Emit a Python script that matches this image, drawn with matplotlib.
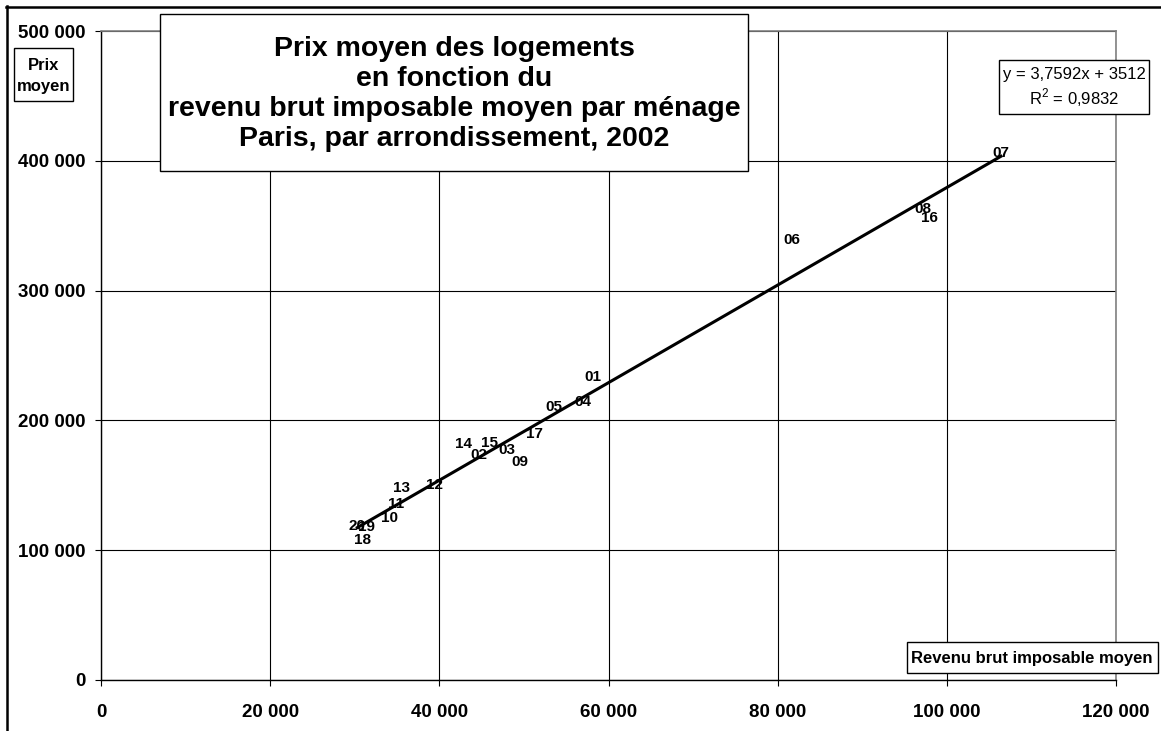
import matplotlib
matplotlib.use("Agg")
import matplotlib.pyplot as plt
from matplotlib.patches import Rectangle
from matplotlib.lines import Line2D
from matplotlib.ticker import FuncFormatter, MultipleLocator

plt.rcParams['font.family'] = ['Liberation Sans', 'DejaVu Sans']
plt.rcParams['mathtext.fontset'] = 'custom'
plt.rcParams['mathtext.rm'] = 'Liberation Sans'

# arrondissements : revenu brut imposable moyen / prix moyen des logements
arrondissements = ['01', '02', '03', '04', '05', '06', '07', '08', '09', '10',
                   '11', '12', '13', '14', '15', '16', '17', '18', '19', '20']
revenu = [58200, 44700, 48000, 57000, 53600, 81700, 106400, 97200, 49500, 34100,
          34900, 39400, 35500, 42800, 45900, 98000, 51300, 30900, 31400, 30300]
prix = [233400, 173300, 177200, 214200, 210300, 339000, 406000, 362900, 168000, 124800,
        135600, 150200, 147900, 181800, 182600, 355900, 189500, 107800, 117900, 118600]

# droite de tendance donnée dans le graphique
pente = 3.7592
ordonnee = 3512
r2 = '0,9832'

titre = ("Prix moyen des logements\nen fonction du\n"
         "revenu brut imposable moyen par ménage\nParis, par arrondissement, 2002")

W, H = 1161, 731
fig = plt.figure(figsize=(W / 100, H / 100), dpi=100)
fig.patch.set_facecolor('white')


def fx(px):
    return px / W


def fy(py):
    return 1 - py / H


ax = fig.add_axes([fx(101), fy(680), fx(1116) - fx(101), fy(31) - fy(680)])
ax.set_xlim(0, 120000)
ax.set_ylim(0, 500000)
ax.xaxis.set_major_locator(MultipleLocator(20000))
ax.yaxis.set_major_locator(MultipleLocator(100000))
fmt = FuncFormatter(lambda v, p: '{:,.0f}'.format(v).replace(',', ' '))
ax.xaxis.set_major_formatter(fmt)
ax.yaxis.set_major_formatter(fmt)
ax.grid(True, color='black', linewidth=0.8)
ax.set_axisbelow(True)
for s in ['top', 'right']:
    ax.spines[s].set_color('#808080')
    ax.spines[s].set_linewidth(1.2)
for s in ['left', 'bottom']:
    ax.spines[s].set_color('black')
    ax.spines[s].set_linewidth(1.0)
ax.tick_params(axis='both', direction='out', length=4, width=0.8, labelsize=13.5)
ax.tick_params(axis='x', pad=13)
ax.tick_params(axis='y', pad=7)
for lab in ax.get_xticklabels() + ax.get_yticklabels():
    lab.set_fontweight('bold')

# droite de tendance
x0, x1 = min(revenu), max(revenu)
ax.plot([x0, x1], [pente * x0 + ordonnee, pente * x1 + ordonnee],
        color='black', linewidth=2.2, zorder=3)

# étiquettes des arrondissements
for a, x, y in zip(arrondissements, revenu, prix):
    ax.text(x, y, a, ha='center', va='center', fontsize=11,
            fontweight='bold', zorder=4)


def boite(x0, y0, x1, y1, lw=1.0):
    fig.patches.append(Rectangle((fx(x0), fy(y1)), fx(x1) - fx(x0), fy(y0) - fy(y1),
                                 transform=fig.transFigure, facecolor='white',
                                 edgecolor='black', linewidth=lw, zorder=5))


# titre
boite(160, 14, 748, 171)
fig.text(fx(454), fy(94), titre, ha='center', va='center', fontsize=20.5,
         fontweight='bold', linespacing=1.2, zorder=6)

# équation
boite(999, 60, 1149, 114)
fig.text(fx(1074), fy(75), 'y = 3,7592x + 3512', ha='center', va='center',
         fontsize=12, zorder=6)
fig.text(fx(1074), fy(98), 'R$^{2}$ = ' + r2, ha='center', va='center',
         fontsize=12, zorder=6)

# titres des axes
boite(14, 48, 73, 101)
fig.text(fx(44), fy(65), 'Prix', ha='center', va='center', fontsize=12,
         fontweight='bold', zorder=6)
fig.text(fx(44), fy(86), 'moyen', ha='center', va='center', fontsize=12,
         fontweight='bold', zorder=6)
boite(907, 642, 1158, 673)
fig.text(fx(1032), fy(658), 'Revenu brut imposable moyen', ha='center', va='center',
         fontsize=12, fontweight='bold', zorder=6)

# cadre extérieur (haut et gauche)
fig.lines.append(Line2D([fx(6), 1], [fy(6.5), fy(6.5)], transform=fig.transFigure,
                        color='black', linewidth=1.8))
fig.lines.append(Line2D([fx(7), fx(7)], [fy(6), 0], transform=fig.transFigure,
                        color='black', linewidth=1.8))

fig.savefig('out.png', dpi=100, facecolor='white')
